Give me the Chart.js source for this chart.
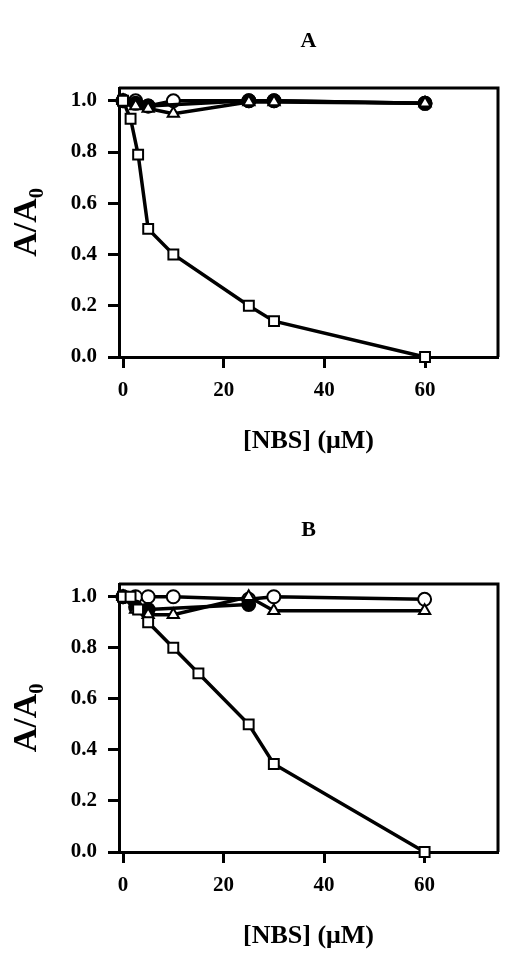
<!DOCTYPE html>
<html>
<head>
<meta charset="utf-8">
<script src="https://cdn.jsdelivr.net/npm/chart.js@4.4.1/dist/chart.umd.min.js"></script>
<style>
  html, body { margin: 0; padding: 0; background: #fff; }
  #wrap { position: relative; width: 507px; height: 957px; }
  canvas { position: absolute; left: 0; }
</style>
</head>
<body>
<div id="wrap">
  <canvas id="panelA" width="507" height="478" style="top:0px"></canvas>
  <canvas id="panelB" width="507" height="479" style="top:478px"></canvas>
</div>
<script>
// tick labels
var xTickValues = [0, 20, 40, 60];
var yTickLabels = ['0.0', '0.2', '0.4', '0.6', '0.8', '1.0'];

// panel A
var aSquareX = [0, 1.5, 3, 5, 10, 25, 30, 60];
var aSquareY = [1.0, 0.93, 0.79, 0.50, 0.40, 0.20, 0.14, 0.0];
var aOpenCircleX = [0, 2.5, 5, 10, 25, 30, 60];
var aOpenCircleY = [1.0, 1.0, 0.98, 1.0, 1.0, 1.0, 0.99];
var aFilledCircleX = [0, 2.5, 5, 25, 30, 60];
var aFilledCircleY = [1.0, 0.99, 0.98, 1.0, 1.0, 0.99];
var aTriangleX = [0, 2.5, 5, 10, 25, 30, 60];
var aTriangleY = [1.0, 0.98, 0.97, 0.95, 0.995, 0.995, 0.99];

// panel B
var bSquareX = [0, 1.5, 3, 5, 10, 15, 25, 30, 60];
var bSquareY = [1.0, 1.0, 0.95, 0.90, 0.80, 0.70, 0.50, 0.345, 0.0];
var bOpenCircleX = [0, 2.5, 5, 10, 25, 30, 60];
var bOpenCircleY = [1.0, 1.0, 1.0, 1.0, 0.99, 1.0, 0.99];
var bFilledCircleX = [0, 2.5, 5, 25];
var bFilledCircleY = [1.0, 0.96, 0.95, 0.97];
var bTriangleX = [0, 2.5, 5, 10, 25, 30, 60];
var bTriangleY = [1.0, 0.95, 0.93, 0.93, 1.0, 0.945, 0.945];

Chart.defaults.font.family = "'Liberation Serif', 'Times New Roman', 'DejaVu Serif', serif";
Chart.defaults.font.weight = 'bold';
Chart.defaults.color = '#000';

function pts(xs, ys) {
    var out = [];
    for (var i = 0; i < xs.length; i++) {
        out.push({ x: xs[i], y: ys[i] });
    }
    return out;
}

function series(data, style, fill, order) {
    return {
        data: data,
        order: order,
        borderColor: '#000',
        borderWidth: 3.5,
        pointStyle: style,
        pointRadius: style === 'rect' ? 7 : 6.5,
        pointBorderWidth: 2,
        pointBorderColor: '#000',
        pointBackgroundColor: fill,
        tension: 0,
        clip: false
    };
}

// top and right edges of the frame
var framePlugin = {
    id: 'frame',
    beforeDatasetsDraw: function(chart) {
        var a = chart.chartArea, ctx = chart.ctx;
        ctx.save();
        ctx.strokeStyle = '#000';
        ctx.lineWidth = 3;
        ctx.beginPath();
        ctx.moveTo(a.left, a.top);
        ctx.lineTo(a.right, a.top);
        ctx.lineTo(a.right, a.bottom);
        ctx.stroke();
        ctx.restore();
    }
};

function makePanel(id, letter, sets, opt) {
    return new Chart(document.getElementById(id), {
        type: 'line',
        data: {
            datasets: [
                series(pts(sets[0][0], sets[0][1]), 'rect', '#fff', 0),
                series(pts(sets[3][0], sets[3][1]), 'triangle', '#fff', 1),
                series(pts(sets[2][0], sets[2][1]), 'circle', '#000', 2),
                series(pts(sets[1][0], sets[1][1]), 'circle', '#fff', 3)
            ]
        },
        options: {
            responsive: false,
            animation: false,
            devicePixelRatio: 1,
            layout: { padding: { left: 0, right: opt.padRight, top: 0, bottom: 0 } },
            plugins: {
                legend: { display: false },
                tooltip: { enabled: false },
                title: {
                    display: true,
                    text: letter,
                    fullSize: false,
                    font: { size: 22, weight: 'bold' },
                    padding: { top: opt.titleTop, bottom: opt.titleBottom }
                }
            },
            scales: {
                x: {
                    type: 'linear',
                    min: opt.xMin,
                    max: opt.xMax,
                    afterFit: function(s) { s.height = opt.xHeight; },
                    border: { display: true, color: '#000', width: 3 },
                    grid: { drawOnChartArea: false, drawTicks: true, tickLength: 11, tickWidth: 3, tickColor: '#000' },
                    ticks: {
                        stepSize: 20,
                        includeBounds: false,
                        padding: 10,
                        font: { size: 21, weight: 'bold' },
                        callback: function(v) { return xTickValues.indexOf(v) >= 0 ? String(v) : null; }
                    },
                    title: {
                        display: true,
                        text: '[NBS] (\u03bcM)',
                        font: { size: 26, weight: 'bold' },
                        padding: { top: 0, bottom: opt.xTitleBottom }
                    }
                },
                y: {
                    type: 'linear',
                    min: 0,
                    max: 1.05,
                    afterFit: function(s) { s.width = 119; },
                    border: { display: true, color: '#000', width: 3 },
                    grid: { drawOnChartArea: false, drawTicks: true, tickLength: 11, tickWidth: 3, tickColor: '#000' },
                    ticks: {
                        stepSize: 0.2,
                        includeBounds: false,
                        padding: 11,
                        font: { size: 21, weight: 'bold' },
                        callback: function(v) { return yTickLabels[Math.round(v / 0.2)]; }
                    },
                    title: {
                        display: true,
                        text: 'A/A\u2080',
                        font: { size: 34, weight: 'bold' },
                        padding: { top: 7, bottom: 0 }
                    }
                }
            }
        },
        plugins: [framePlugin]
    });
}

makePanel('panelA', 'A', [
    [aSquareX, aSquareY],
    [aOpenCircleX, aOpenCircleY],
    [aFilledCircleX, aFilledCircleY],
    [aTriangleX, aTriangleY]
], { padRight: 4, titleTop: 28, titleBottom: 33.6, xMin: -0.8, xMax: 74.5, xHeight: 121, xTitleBottom: 21 });

makePanel('panelB', 'B', [
    [bSquareX, bSquareY],
    [bOpenCircleX, bOpenCircleY],
    [bFilledCircleX, bFilledCircleY],
    [bTriangleX, bTriangleY]
], { padRight: 6, titleTop: 38.8, titleBottom: 40.8, xMin: -0.8, xMax: 74.6, xHeight: 105, xTitleBottom: 5 });
</script>
</body>
</html>
